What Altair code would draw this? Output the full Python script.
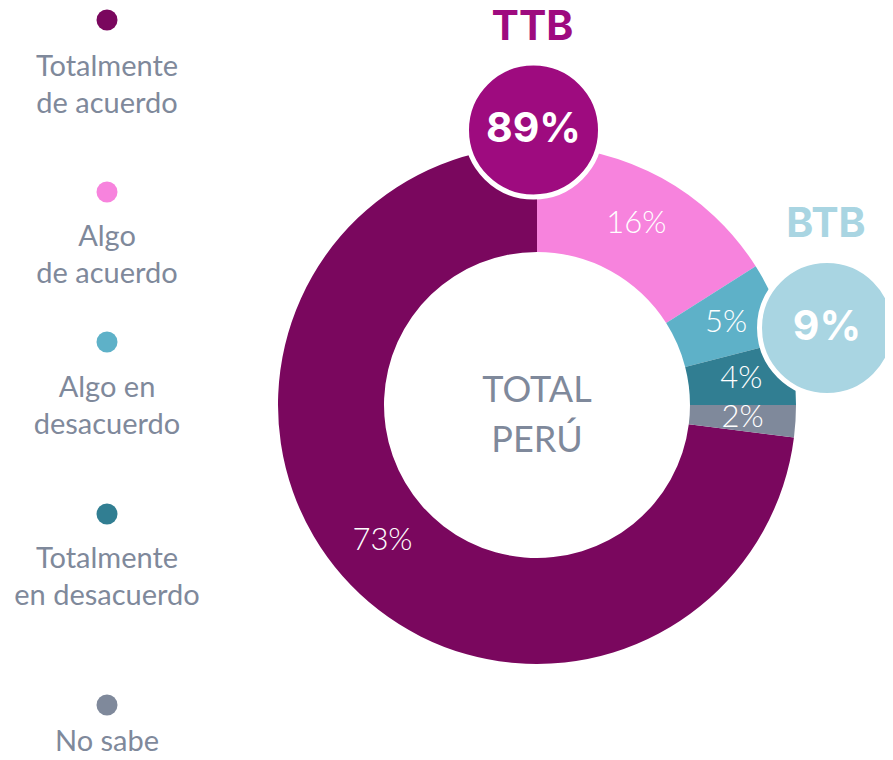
import altair as alt
import pandas as pd

# ---- data -------------------------------------------------------------
categorias = ["Totalmente de acuerdo", "Algo de acuerdo", "Algo en desacuerdo",
              "Totalmente en desacuerdo", "No sabe"]
valores = [73, 16, 5, 4, 2]
orden_anillo = [5, 1, 2, 3, 4]          # drawing order around the ring (clockwise from 12 o'clock)
leyenda = ["Totalmente\nde acuerdo", "Algo\nde acuerdo", "Algo en\ndesacuerdo",
           "Totalmente\nen desacuerdo", "No sabe"]
centro = "TOTAL\nPERÚ"
resumen_nombres = ["TTB", "BTB"]
resumen_valores = [89, 9]

# ---- styles -----------------------------------------------------------
colores = ["#7A075E", "#F783DD", "#5EB1C8", "#317E92", "#7F899B"]
resumen_colores = ["#9E0B7F", "#A9D5E2"]
GRIS = "#7F899B"

df = pd.DataFrame({
    "categoria": categorias,
    "valor": valores,
    "orden": orden_anillo,
    "leyenda": leyenda,
    "indice": list(range(len(categorias))),
    "etiqueta": [f"{v}%" for v in valores],
})

color = alt.Color("categoria:N", scale=alt.Scale(domain=categorias, range=colores), legend=None)
theta = alt.Theta("valor:Q", stack=True)
order = alt.Order("orden:Q")

CX, CY = 529, 397
base = alt.Chart(df)

arc = base.mark_arc(innerRadius=153, outerRadius=259).encode(
    theta=theta, order=order, color=color, x=alt.value(CX), y=alt.value(CY))

ring_text = base.mark_text(radius=206, font="Lato", fontWeight=300, fontSize=31,
                           color="white", baseline="middle", align="center").encode(
    theta=theta, order=order, text="etiqueta:N", x=alt.value(CX), y=alt.value(CY))

center_text = alt.Chart(pd.DataFrame({"t": [centro]})).mark_text(
    lineBreak="\n", lineHeight=50, fontSize=36, font="Lato", color=GRIS,
    baseline="alphabetic", align="center").encode(
    text="t:N", x=alt.value(CX), y=alt.value(394))


def badge(i, cx, cy, r, title_y, value_y):
    d = pd.DataFrame({"n": [resumen_nombres[i]], "v": [f"{resumen_valores[i]}%"]})
    c = alt.Chart(d)
    # Vega symbol size = area of the bounding square -> (2r)^2
    circ = c.mark_circle(size=(2 * r) ** 2, opacity=1, fillOpacity=1,
                         color=resumen_colores[i], stroke="white", strokeWidth=5).encode(
        x=alt.value(cx), y=alt.value(cy))
    val = c.mark_text(font="Inter", fontWeight="bold", fontSize=41, color="white",
                      baseline="alphabetic", align="center").encode(
        text="v:N", x=alt.value(cx), y=alt.value(value_y))
    tit = c.mark_text(font="Inter", fontWeight="bold", fontSize=41, color=resumen_colores[i],
                      baseline="alphabetic", align="center").encode(
        text="n:N", x=alt.value(cx - 1), y=alt.value(title_y))
    return [circ, val, tit]


ttb = badge(0, 525.5, 122, 67, 32, 134)
btb = badge(1, 819, 320, 67.5, 229, 332)

idx = list(range(len(categorias)))
y_dot = alt.Y("indice:Q", axis=None,
              scale=alt.Scale(domain=idx, range=[12, 184, 334, 506, 697], zero=False, nice=False))
y_lab = alt.Y("indice:Q", axis=None,
              scale=alt.Scale(domain=idx, range=[68, 238, 389, 560, 743], zero=False, nice=False))

leg_dots = base.mark_circle(size=441, opacity=1).encode(
    x=alt.value(99), y=y_dot, color=color)
leg_text = base.mark_text(lineBreak="\n", lineHeight=37, fontSize=29, font="Lato",
                          color=GRIS, baseline="alphabetic", align="center").encode(
    x=alt.value(99), y=y_lab, text="leyenda:N")

chart = alt.layer(arc, ring_text, *ttb, *btb, center_text, leg_dots, leg_text).resolve_scale(
    y="independent"
).properties(
    width=877, height=744, padding=0, autosize="none"
).configure_view(stroke=None)

chart.save("out.html", embed_options={"renderer": "svg", "actions": False})
